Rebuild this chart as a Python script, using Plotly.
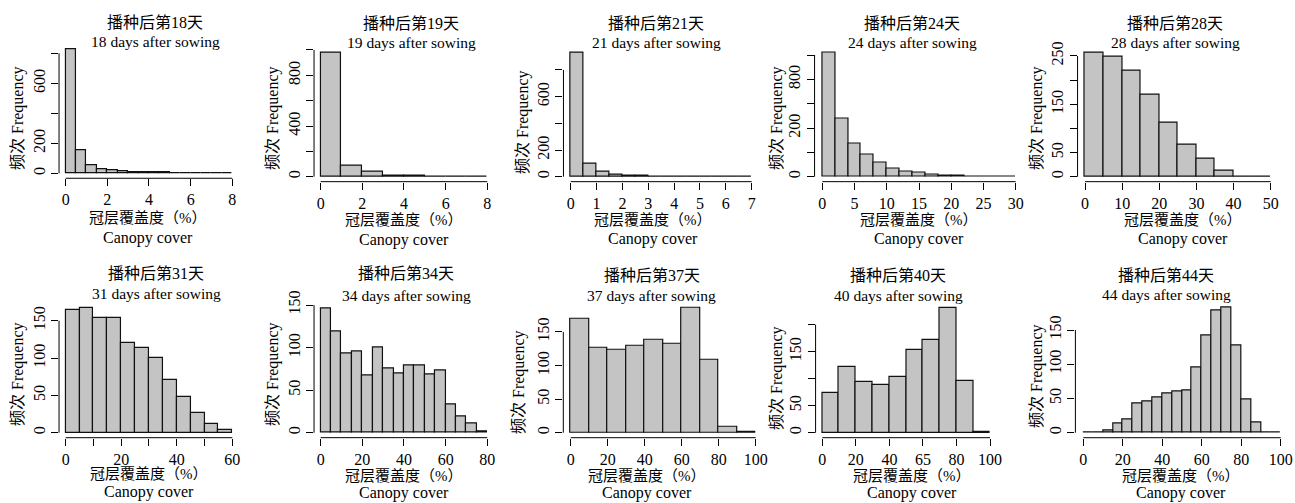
import plotly.graph_objects as go

W, H = 1295, 503
FONT = "'Liberation Serif', 'Noto Sans CJK SC', serif"

# ---------------- data ----------------
days = [18, 19, 21, 24, 28, 31, 34, 37, 40, 44]
title_cn = ["播种后第18天", "播种后第19天", "播种后第21天", "播种后第24天", "播种后第28天",
            "播种后第31天", "播种后第34天", "播种后第37天", "播种后第40天", "播种后第44天"]
title_en = ["18 days after sowing", "19 days after sowing", "21 days after sowing",
            "24 days after sowing", "28 days after sowing", "31 days after sowing",
            "34 days after sowing", "37 days after sowing", "40 days after sowing",
            "44 days after sowing"]
xlab_cn = "冠层覆盖度（%）"
xlab_en = "Canopy cover"
ylab = "频次 Frequency"

bin_start = [0, 0, 0, 0, 0, 0, 0, 0, 0, 0]
bin_width = [0.5, 1, 0.5, 2, 5, 5, 5, 10, 10, 5]

counts_d18 = [827, 156, 56, 24, 20, 11, 4, 4, 6, 4, 1, 1, 2, 1, 1, 1]
counts_d19 = [979, 84, 37, 10, 5, 2, 1, 1]
counts_d21 = [930, 100, 38, 15, 7, 7, 3, 2, 1, 1, 1, 1, 1, 1]
counts_d24 = [510, 237, 137, 89, 58, 33, 22, 15, 8, 5, 3, 2, 1, 1, 1]
counts_d28 = [257, 249, 219, 170, 112, 66, 37, 13, 1, 1]
counts_d31 = [164, 167, 153, 153, 120, 114, 100, 70, 48, 26, 12, 4]
counts_d34 = [146, 119, 93, 95, 67, 100, 75, 70, 79, 79, 69, 73, 33, 19, 11, 1]
counts_d37 = [170, 126, 124, 129, 139, 133, 186, 109, 9, 1]
counts_d40 = [73, 122, 94, 89, 104, 154, 171, 231, 96, 1]
counts_d44 = [1, 1, 3, 13, 19, 43, 46, 52, 57, 61, 62, 96, 142, 178, 183, 128, 48, 15, 1, 1]
counts = [counts_d18, counts_d19, counts_d21, counts_d24, counts_d28,
          counts_d31, counts_d34, counts_d37, counts_d40, counts_d44]

x_tickvals = [[0, 2, 4, 6, 8], [0, 2, 4, 6, 8], [0, 1, 2, 3, 4, 5, 6, 7],
              [0, 5, 10, 15, 20, 25, 30], [0, 10, 20, 30, 40, 50],
              [0, 10, 20, 30, 40, 50, 60], [0, 20, 40, 60, 80],
              [0, 20, 40, 60, 80, 100], [0, 20, 40, 60, 80, 100], [0, 20, 40, 60, 80, 100]]
x_ticktext = [["0", "2", "4", "6", "8"], ["0", "2", "4", "6", "8"],
              ["0", "1", "2", "3", "4", "5", "6", "7"],
              ["0", "5", "10", "15", "20", "25", "30"], ["0", "10", "20", "30", "40", "50"],
              ["0", "", "20", "", "40", "", "60"], ["0", "20", "40", "60", "80"],
              ["0", "20", "40", "60", "80", "100"], ["0", "20", "40", "65", "80", "100"],
              ["0", "20", "40", "60", "80", "100"]]
y_tickvals = [[0, 200, 400, 600, 800], [0, 200, 400, 600, 800, 1000],
              [0, 200, 400, 600, 800], [0, 100, 200, 300, 400, 500],
              [0, 50, 100, 150, 200, 250], [0, 50, 100, 150], [0, 50, 100, 150],
              [0, 50, 100, 150], [0, 50, 100, 150, 200], [0, 50, 100, 150]]
y_ticktext = [["0", "200", "", "600", ""], ["0", "", "400", "", "800", ""],
              ["0", "200", "", "600", ""], ["0", "", "200", "", "800", ""],
              ["0", "50", "", "150", "", "250"], ["0", "50", "100", "150"],
              ["0", "50", "100", "150"], ["0", "50", "100", "150"],
              ["0", "50", "", "150", ""], ["0", "50", "100", "150"]]

# ---------------- layout geometry (pixels) ----------------
# pixel of first x tick, pixel of last x tick, pixel of y=0, pixel of top y tick
geom = [
    (65.7, 232.3, 173.3, 53.3),
    (320.7, 487.3, 176.7, 50.0),
    (570.7, 751.7, 176.7, 70.0),
    (822.3, 1015.7, 176.7, 55.0),
    (1085.0, 1270.7, 176.7, 56.0),
    (65.7, 232.3, 432.7, 320.7),
    (320.7, 487.3, 432.7, 305.0),
    (570.7, 755.7, 432.7, 332.0),
    (822.3, 990.0, 432.7, 324.7),
    (1083.3, 1280.7, 432.7, 330.0),
]
# title centre x, title line y's, x-label centre x, x-label line y's, y-label (x, y)
title_pos = [(155, 22, 42), (411, 23, 43), (656, 23, 43), (912, 23, 43), (1175, 23, 43),
             (156, 273, 293), (406, 273, 295), (652, 275, 295), (898, 275, 295), (1166, 275, 294)]
xlab_pos = [(148, 218, 238), (404, 220, 240), (653, 220, 239), (919, 220, 239), (1183, 220, 239),
            (149, 474, 492), (404, 476, 493), (647, 476, 493), (912, 476, 493), (1181, 476, 493)]
ylab_pos = [(18, 118), (273, 118), (523, 122), (777, 118), (1037, 118),
            (18, 374), (273, 374), (519, 382), (777, 378), (1037, 376)]

fig = go.Figure()
shapes = []
annotations = []


def px(x):
    return x / W


def py(y):
    return 1 - y / H


for i in range(10):
    sfx = "" if i == 0 else str(i + 1)
    c = counts[i]
    w = bin_width[i]
    centers = [bin_start[i] + w * (k + 0.5) for k in range(len(c))]
    xmin = bin_start[i]
    xmax = bin_start[i] + w * len(c)
    fig.add_trace(go.Bar(
        x=centers, y=c, width=[w] * len(c),
        marker=dict(color="#c4c4c4", line=dict(color="#111111", width=1.2)),
        xaxis="x" + sfx, yaxis="y" + sfx, showlegend=False, hoverinfo="x+y"))

    x0p, x1p, y0p, ytp = geom[i]
    xs = (x1p - x0p) / (x_tickvals[i][-1] - x_tickvals[i][0])
    pad = 0.04 * (xmax - xmin)
    left = x0p - (x_tickvals[i][0] - (xmin - pad)) * xs
    right = x1p + ((xmax + pad) - x_tickvals[i][-1]) * xs
    ymax = max(c)
    ys = (y0p - ytp) / y_tickvals[i][-1]
    bottom = y0p + 0.04 * ymax * ys
    top = y0p - 1.04 * ymax * ys

    fig.layout["xaxis" + sfx] = dict(
        domain=[px(left), px(right)], range=[xmin - pad, xmax + pad], anchor="y" + sfx,
        showgrid=False, zeroline=False, showline=False,
        tickmode="array", tickvals=x_tickvals[i], ticktext=x_ticktext[i],
        ticks="outside", ticklen=7, tickwidth=1, tickcolor="black",
        tickfont=dict(family=FONT, size=16, color="black"), fixedrange=True)
    fig.layout["yaxis" + sfx] = dict(
        domain=[py(bottom), py(top)], range=[-0.04 * ymax, 1.04 * ymax], anchor="x" + sfx,
        showgrid=False, zeroline=False, showline=False,
        tickmode="array", tickvals=y_tickvals[i], ticktext=y_ticktext[i], tickangle=-90,
        ticks="outside", ticklen=7, tickwidth=1, tickcolor="black",
        tickfont=dict(family=FONT, size=16, color="black"), fixedrange=True)

    # R-style axis lines spanning first..last tick
    shapes.append(dict(type="line", xref="x" + sfx, yref="y" + sfx + " domain",
                       x0=x_tickvals[i][0], x1=x_tickvals[i][-1], y0=0, y1=0,
                       line=dict(color="black", width=1)))
    shapes.append(dict(type="line", xref="x" + sfx + " domain", yref="y" + sfx,
                       x0=0, x1=0, y0=y_tickvals[i][0], y1=y_tickvals[i][-1],
                       line=dict(color="black", width=1)))

    tx, t1, t2 = title_pos[i]
    annotations.append(dict(text=title_cn[i], x=px(tx), y=py(t1), xref="paper", yref="paper",
                            showarrow=False, xanchor="center", yanchor="middle",
                            font=dict(family=FONT, size=16, color="black")))
    annotations.append(dict(text=title_en[i], x=px(tx), y=py(t2), xref="paper", yref="paper",
                            showarrow=False, xanchor="center", yanchor="middle",
                            font=dict(family=FONT, size=15.5, color="black")))
    lx, l1, l2 = xlab_pos[i]
    annotations.append(dict(text=xlab_cn, x=px(lx), y=py(l1), xref="paper", yref="paper",
                            showarrow=False, xanchor="center", yanchor="middle",
                            font=dict(family=FONT, size=15, color="black")))
    annotations.append(dict(text=xlab_en, x=px(lx), y=py(l2), xref="paper", yref="paper",
                            showarrow=False, xanchor="center", yanchor="middle",
                            font=dict(family=FONT, size=16, color="black")))
    yx, yy = ylab_pos[i]
    annotations.append(dict(text=ylab, x=px(yx), y=py(yy), xref="paper", yref="paper",
                            showarrow=False, xanchor="center", yanchor="middle", textangle=-90,
                            font=dict(family=FONT, size=16, color="black")))

fig.update_layout(
    width=W, height=H, margin=dict(l=0, r=0, t=0, b=0, pad=0, autoexpand=False),
    paper_bgcolor="white", plot_bgcolor="white",
    bargap=0, shapes=shapes, annotations=annotations,
    font=dict(family=FONT, color="black"))

fig.write_html("out.html",
               config={"displayModeBar": False},
               post_script="document.body.style.margin='0';document.body.style.padding='0';"
                           "document.documentElement.style.overflow='hidden';")
